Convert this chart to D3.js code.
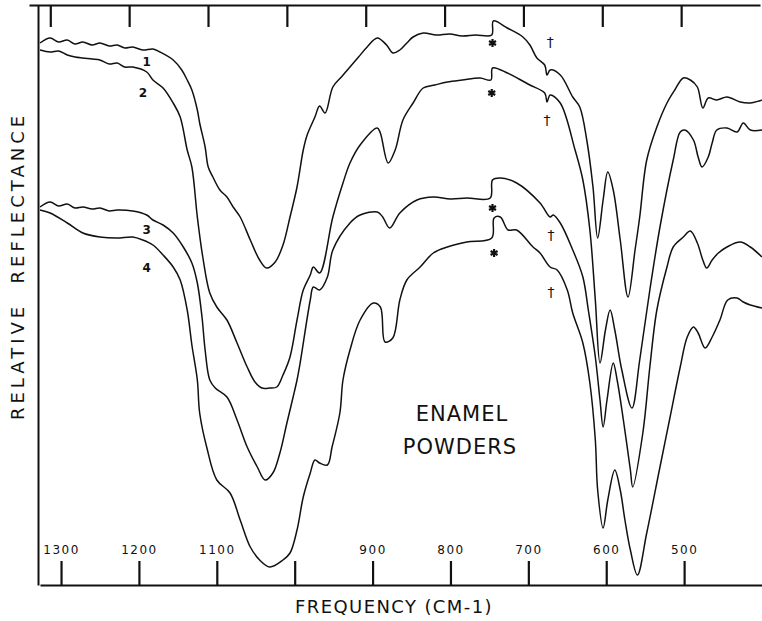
<!DOCTYPE html>
<html>
<head>
<meta charset="utf-8">
<script src="https://cdn.jsdelivr.net/npm/d3@7"></script>
<style>
  body { margin: 0; background: #fff; }
  text { font-family: "DejaVu Sans", sans-serif; fill: #111; }
</style>
</head>
<body>
<svg id="chart" width="762" height="621"></svg>
<script>
// Espectros de reflectancia (frecuencia cm-1, reflectancia relativa en unidades arbitrarias)
const curve1 = [
  [1327,54.2],[1314,54.7],[1303,54.3],[1292,54.5],[1282,54.1],[1272,54.3],[1260,54.0],[1250,54.2],
  [1238,53.9],[1228,54.0],[1218,53.7],[1208,53.8],[1195,53.5],[1182,53.6],[1173,53.3],[1156,52.5],
  [1145,51.5],[1138,50.5],[1132,49.5],[1125,47.5],[1122,46.2],[1115,43.8],[1111,41.8],[1105,40.8],
  [1096,39.5],[1087,38.8],[1079,37.8],[1070,36.8],[1057,34.5],[1045,32.5],[1036,31.7],[1025,32.3],
  [1015,34.0],[1006,36.8],[997,39.8],[989,43.5],[984,45.0],[974,46.8],[968,47.9],[961,47.2],
  [951,49.8],[940,50.8],[929,51.8],[918,52.8],[907,53.8],[894,54.7],[882,54.0],[874,53.2],
  [865,53.5],[856,54.2],[848,54.8],[835,55.2],[818,55.0],[801,55.1],[785,54.9],[768,55.0],
  [747,55.0],[745,56.4],[727,55.7],[707,54.8],[698,54.0],[689,52.7],[679,52.0],[676,51.0],
  [672,51.5],[659,51.0],[643,48.8],[634,47.8],[625,44.5],[617,39.8],[611,34.7],[604,38.5],
  [598,41.3],[591,39.5],[582,34.5],[572,28.8],[563,33.5],[557,36.8],[548,42.5],[535,45.8],
  [522,48.2],[512,49.5],[501,50.7],[492,50.5],[483,49.8],[476,47.7],[469,48.7],[458,48.5],
  [445,48.8],[428,48.3],[415,48.2],[400,48.5]
]

const curve2 = [
  [1327,53.5],[1314,53.3],[1303,53.4],[1292,53.0],[1282,52.8],[1272,52.7],[1260,52.6],[1250,52.5],
  [1238,52.1],[1228,52.2],[1218,51.8],[1208,51.8],[1190,51.3],[1182,50.5],[1169,49.7],[1156,48.2],
  [1147,46.8],[1138,43.5],[1132,41.8],[1125,36.8],[1118,32.8],[1109,29.2],[1100,27.8],[1087,26.5],
  [1074,24.2],[1061,21.8],[1051,20.3],[1042,19.7],[1032,19.7],[1023,19.8],[1015,21.0],[1006,22.8],
  [997,26.5],[989,29.5],[980,31.0],[976,31.8],[968,31.2],[951,36.8],[938,40.2],[929,42.2],
  [916,44.0],[894,45.7],[890,45.2],[880,42.2],[871,43.5],[861,46.5],[848,48.2],[835,49.7],
  [820,50.0],[804,50.3],[785,50.5],[762,50.7],[748,50.5],[746,51.7],[727,51.2],[712,50.6],
  [698,50.0],[679,49.2],[676,48.3],[672,49.0],[659,48.2],[640,43.5],[630,40.5],[621,35.5],
  [614,28.5],[608,22.2],[601,25.5],[595,27.5],[589,25.5],[580,21.5],[567,17.7],[557,22.5],
  [544,29.5],[531,35.8],[514,42.5],[505,45.3],[499,45.5],[488,44.5],[482,42.8],[477,41.8],
  [469,42.8],[464,44.2],[458,45.5],[445,45.7],[432,45.3],[424,46.2],[415,45.5],[400,45.5]
]

const curve3 = [
  [1327,37.8],[1314,38.3],[1303,37.9],[1292,38.1],[1282,37.7],[1272,37.8],[1260,37.6],[1250,37.7],
  [1238,37.4],[1228,37.5],[1208,37.4],[1190,37.0],[1182,36.5],[1169,36.0],[1156,35.2],[1143,33.8],
  [1132,32.2],[1125,30.2],[1119,26.8],[1115,23.5],[1109,20.5],[1102,19.7],[1087,18.8],[1074,16.5],
  [1061,13.8],[1048,11.8],[1038,10.5],[1028,11.2],[1019,13.2],[1010,16.2],[1002,18.8],[997,20.5],
  [993,22.2],[980,28.5],[976,29.8],[968,29.5],[958,30.8],[951,33.5],[929,36.2],[916,37.0],
  [894,37.3],[887,36.8],[878,35.7],[865,37.2],[843,38.5],[822,38.8],[800,38.6],[779,38.7],
  [749,38.7],[746,40.5],[736,40.7],[715,40.2],[685,38.2],[672,36.8],[668,37.0],[659,36.2],
  [643,33.5],[630,30.8],[623,27.5],[614,22.8],[608,18.5],[604,15.8],[599,18.5],[591,22.2],
  [586,20.5],[578,16.5],[569,11.5],[566,9.8],[553,15.2],[544,21.8],[535,27.5],[522,31.8],
  [514,33.8],[501,34.8],[492,35.4],[483,34.2],[476,32.5],[471,31.7],[464,32.5],[456,33.2],
  [445,33.8],[428,34.3],[415,33.8],[400,32.8]
]

const curve4 = [
  [1327,37.5],[1314,37.2],[1292,36.2],[1272,35.2],[1250,34.8],[1228,34.7],[1208,34.8],[1195,34.5],
  [1182,34.0],[1169,33.0],[1156,31.8],[1147,30.5],[1138,27.5],[1132,24.0],[1125,20.5],[1122,17.2],
  [1113,13.8],[1100,10.5],[1083,9.2],[1070,6.5],[1057,3.8],[1045,2.5],[1032,1.8],[1015,2.5],
  [1006,3.2],[997,5.5],[989,8.8],[980,11.2],[974,12.5],[968,12.2],[958,12.0],[952,13.8],
  [942,17.2],[938,20.5],[929,23.5],[916,26.5],[899,28.2],[890,27.8],[884,24.3],[874,24.7],
  [865,28.5],[856,30.5],[839,31.8],[822,33.2],[804,33.8],[779,34.3],[747,34.7],[744,36.7],
  [736,36.8],[726,35.5],[715,35.5],[694,33.8],[685,33.2],[672,31.8],[663,31.5],[650,29.5],
  [643,27.2],[630,24.2],[621,20.2],[614,14.5],[611,9.5],[604,5.7],[598,8.5],[589,11.5],
  [582,9.5],[576,6.5],[569,3.5],[560,1.0],[548,5.2],[531,11.8],[518,16.8],[505,21.8],
  [496,24.8],[488,25.8],[482,25.2],[473,23.7],[464,24.8],[454,26.5],[444,28.5],[432,28.7],
  [424,28.3],[415,28.0],[400,27.7]
]

const curves = [curve1, curve2, curve3, curve4]

// Marcas del eje de frecuencia
const tickValues = [1300, 1200, 1100, 1000, 900, 800, 700, 600, 500]
const tickLabels = ['1300', '1200', '1100', '', '900', '800', '700', '600', '500']

// Etiquetas y marcas sobre las curvas
const curveNames = ['1', '2', '3', '4']
const curveNamePos = [[1190, 52.3], [1195, 49.2], [1190, 35.5], [1190, 31.7]]
const asteriskPos = [[746, 54.2], [747, 49.2], [746, 37.7], [744, 33.2]]
const daggerPos = [[672, 54.3], [676, 46.5], [671, 35.0], [671, 29.3]]

const svg = d3.select('#chart')

const x = d3.scaleLinear().domain([1327, 400]).range([40, 762])
// el eje superior del original esta ligeramente desplazado
const xTop = d3.scaleLinear().domain([1327, 400]).range([29, 760])
const y = d3.scaleLinear().domain([0, 58]).range([585, 5])

// Eje inferior con ticks hacia arriba y etiquetas encima
const xAxis = svg.append('g')
  .attr('transform', 'translate(0,585)')
  .call(d3.axisBottom(x)
    .tickValues(tickValues)
    .tickSizeInner(-24)
    .tickSizeOuter(0)
    .tickFormat((d, i) => tickLabels[i]))
xAxis.select('.domain').attr('stroke', '#111').attr('stroke-width', 2)
xAxis.selectAll('.tick line').attr('stroke', '#111').attr('stroke-width', 2.2)
xAxis.selectAll('.tick text')
  .attr('y', -31).attr('dy', 0)
  .attr('font-size', 12).attr('letter-spacing', 1.5)
  .style('font-family', '"DejaVu Sans", sans-serif').attr('fill', '#111')

// Eje superior solo con ticks
const topAxis = svg.append('g')
  .attr('transform', 'translate(0,5)')
  .call(d3.axisTop(xTop)
    .tickValues(tickValues)
    .tickSizeInner(-22)
    .tickSizeOuter(0)
    .tickFormat(''))
topAxis.select('.domain').attr('stroke', '#111').attr('stroke-width', 2)
topAxis.selectAll('.tick line').attr('stroke', '#111').attr('stroke-width', 2.2)

// Eje izquierdo sin marcas
const yAxis = svg.append('g')
  .attr('transform', 'translate(38,0)')
  .call(d3.axisLeft(y).tickValues([]).tickSizeOuter(0))
yAxis.select('.domain').attr('stroke', '#111').attr('stroke-width', 2)

// Curvas
const line = d3.line()
  .x(d => x(d[0]))
  .y(d => y(d[1]))
  .curve(d3.curveCatmullRom.alpha(0.5))

svg.selectAll('path.curve')
  .data(curves)
  .enter().append('path')
  .attr('class', 'curve')
  .attr('d', line)
  .attr('fill', 'none')
  .attr('stroke', '#111')
  .attr('stroke-width', 1.5)
  .attr('stroke-linejoin', 'round')

// Numeros de las curvas
svg.selectAll('text.cname')
  .data(curveNames)
  .enter().append('text')
  .attr('class', 'cname')
  .attr('x', (d, i) => x(curveNamePos[i][0]))
  .attr('y', (d, i) => y(curveNamePos[i][1]))
  .attr('text-anchor', 'middle')
  .attr('dominant-baseline', 'central')
  .attr('font-size', 12)
  .attr('font-weight', 'bold')
  .text(d => d)

// Asteriscos
svg.selectAll('path.star')
  .data(asteriskPos)
  .enter().append('path')
  .attr('class', 'star')
  .attr('transform', d => `translate(${x(d[0])},${y(d[1])})`)
  .attr('d', d3.symbol(d3.symbolAsterisk || d3.symbolCross, 45))
  .attr('fill', 'none')
  .attr('stroke', '#111')
  .attr('stroke-width', 2.2)

// Cruces (dagas)
svg.selectAll('text.dagger')
  .data(daggerPos)
  .enter().append('text')
  .attr('class', 'dagger')
  .attr('x', d => x(d[0]))
  .attr('y', d => y(d[1]))
  .attr('text-anchor', 'middle')
  .attr('dominant-baseline', 'central')
  .attr('font-size', 14)
  .style('font-family', '"DejaVu Sans", sans-serif')
  .style('fill', '#111')
  .text('\u2020')

// Texto dentro del grafico
svg.append('text')
  .attr('x', 462).attr('y', 421)
  .attr('text-anchor', 'middle')
  .attr('font-size', 21).attr('letter-spacing', 1)
  .text('ENAMEL')
svg.append('text')
  .attr('x', 460).attr('y', 454)
  .attr('text-anchor', 'middle')
  .attr('font-size', 21).attr('letter-spacing', 1)
  .text('POWDERS')

// Titulos de ejes
svg.append('text')
  .attr('x', 394).attr('y', 613)
  .attr('text-anchor', 'middle')
  .attr('font-size', 18).attr('letter-spacing', 1.4)
  .text('FREQUENCY (CM-1)')

svg.append('text')
  .attr('transform', 'translate(24,266) rotate(-90)')
  .attr('text-anchor', 'middle')
  .attr('font-size', 18).attr('letter-spacing', 4)
  .style('white-space', 'pre')
  .text('RELATIVE  REFLECTANCE')
</script>
</body>
</html>
